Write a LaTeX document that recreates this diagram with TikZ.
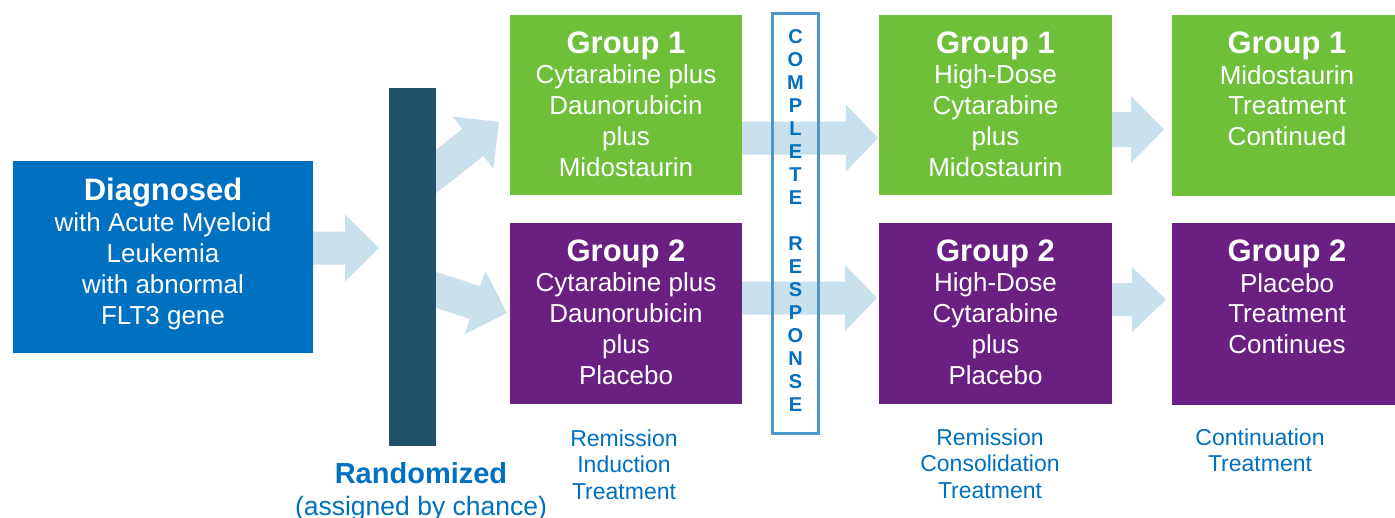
\documentclass[tikz,border=0pt]{standalone}
\usepackage{fontspec}
\setmainfont{Liberation Sans}
\usetikzlibrary{calc}
\definecolor{cblue}{RGB}{0,112,192}
\definecolor{cgreen}{RGB}{112,191,58}
\definecolor{cpurple}{RGB}{106,32,130}
\definecolor{cbar}{RGB}{33,80,106}
\definecolor{carrow}{RGB}{201,224,237}
\definecolor{cframe}{RGB}{74,152,204}
\tikzset{
  blk/.style={rectangle, inner sep=0pt, outer sep=0pt, anchor=north west},
  arrowfill/.style={fill=carrow},
  ttl/.style={font=\bfseries\fontsize{31}{31}\selectfont, text=white, anchor=base, inner sep=0pt},
  body/.style={font=\fontsize{26}{30.7}\selectfont, text=white, align=center, anchor=base, inner sep=0pt},
  lbl/.style={font=\fontsize{23}{26.8}\selectfont, text=cblue, align=center, anchor=base, inner sep=0pt},
  crtext/.style={font=\bfseries\fontsize{20}{23}\selectfont, text=cblue, align=center, anchor=base, inner sep=0pt}
}
\newcommand{\fatarrow}[5]{%
  \path ($(#2)!#5!(#1)$) coordinate (fabase);
  \fill[arrowfill] ($(#1)!#3!90:(#2)$) -- ($(fabase)!#3!90:(#2)$) -- ($(fabase)!#4!90:(#2)$) -- (#2)
    -- ($(fabase)!#4!-90:(#2)$) -- ($(fabase)!#3!-90:(#2)$) -- ($(#1)!#3!-90:(#2)$) -- cycle;
}
\begin{document}
\begin{tikzpicture}[x=1pt,y=-1pt]
\fill[white] (0,0) rectangle (1395,517);
\path[use as bounding box] (0,0) rectangle (1395,517);

% boxes
\node[blk, fill=cblue, minimum width=300pt, minimum height=192pt] (diag) at (13,161) {};
\node[blk, fill=cgreen, minimum width=232pt, minimum height=180pt] (g1a) at (510,15) {};
\node[blk, fill=cpurple, minimum width=232pt, minimum height=181pt] (g2a) at (510,223) {};
\node[blk, fill=cgreen, minimum width=233pt, minimum height=180pt] (g1b) at (879,15) {};
\node[blk, fill=cpurple, minimum width=233pt, minimum height=181pt] (g2b) at (879,223) {};
\node[blk, fill=cgreen, minimum width=232pt, minimum height=181pt] (g1c) at (1172,15) {};
\node[blk, fill=cpurple, minimum width=232pt, minimum height=182pt] (g2c) at (1172,223) {};

% arrow end points
\coordinate (a1s) at (313,248);   \coordinate (a1e) at (379,248);
\coordinate (a2s) at (420.4,183.8); \coordinate (a2e) at (499,122);
\coordinate (a3s) at (412,282);   \coordinate (a3e) at (507,313);
\coordinate (a4s) at (742,138);   \coordinate (a4e) at (878,138);
\coordinate (a5s) at (742,298);   \coordinate (a5e) at (877,298);
\coordinate (a6s) at (1112,129.5); \coordinate (a6e) at (1164,129.5);
\coordinate (a7s) at (1112,299.5); \coordinate (a7e) at (1166,299.5);

\fatarrow{a1s}{a1e}{16.5pt}{33.5pt}{34pt}
\fatarrow{a2s}{a2e}{17.1pt}{33.1pt}{33.2pt}
\fatarrow{a3s}{a3e}{17.1pt}{33.4pt}{33.7pt}
\fatarrow{a4s}{a4e}{16.5pt}{33.5pt}{32pt}
\fatarrow{a5s}{a5e}{16.5pt}{33pt}{32pt}
\fatarrow{a6s}{a6e}{17.5pt}{33.5pt}{33pt}
\fatarrow{a7s}{a7e}{16.5pt}{32.5pt}{34pt}

% randomization bar
\node[blk, fill=cbar, minimum width=47pt, minimum height=358pt] (bar) at (389,88) {};

% complete response frame
\node[blk, draw=cframe, line width=3pt, minimum width=46pt, minimum height=420pt] (cr) at (772.5,13.5) {};
\node[crtext] (crt) at (795.5,411) {C\\O\\M\\P\\L\\E\\T\\E\\[23pt]R\\E\\S\\P\\O\\N\\S\\E};

% texts in boxes (base anchor = baseline of the last line)
\node[ttl] (tdiag) at (163,200) {Diagnosed};
\node[body] (bdiag) at (163,324) {with Acute Myeloid\\Leukemia\\with abnormal\\FLT3 gene};

\node[ttl] (t1a) at (626,53) {Group 1};
\node[body] (b1a) at (626,176) {Cytarabine plus\\Daunorubicin\\plus\\Midostaurin};
\node[ttl] (t2a) at (626,261) {Group 2};
\node[body] (b2a) at (626,384) {Cytarabine plus\\Daunorubicin\\plus\\Placebo};

\node[ttl] (t1b) at (995.5,53) {Group 1};
\node[body] (b1b) at (995.5,176) {High-Dose\\Cytarabine\\plus\\Midostaurin};
\node[ttl] (t2b) at (995.5,261) {Group 2};
\node[body] (b2b) at (995.5,384) {High-Dose\\Cytarabine\\plus\\Placebo};

\node[ttl] (t1c) at (1287,53) {Group 1};
\node[body] (b1c) at (1287,145.4) {Midostaurin\\Treatment\\Continued};
\node[ttl] (t2c) at (1287,261) {Group 2};
\node[body] (b2c) at (1287,353.4) {Placebo\\Treatment\\Continues};

% labels
\node[lbl] (l1) at (624,499.6) {Remission\\Induction\\Treatment};
\node[lbl] (l2) at (990,498.6) {Remission\\Consolidation\\Treatment};
\node[lbl] (l3) at (1260,471.8) {Continuation\\Treatment};
\node[font=\bfseries\fontsize{29}{29}\selectfont, text=cblue, anchor=base, inner sep=0pt] (rnd) at (421,483) {Randomized};
\node[font=\fontsize{26.5}{26.5}\selectfont, text=cblue, anchor=base, inner sep=0pt] (rnd2) at (421,515) {(assigned by chance)};
\end{tikzpicture}
\end{document}
